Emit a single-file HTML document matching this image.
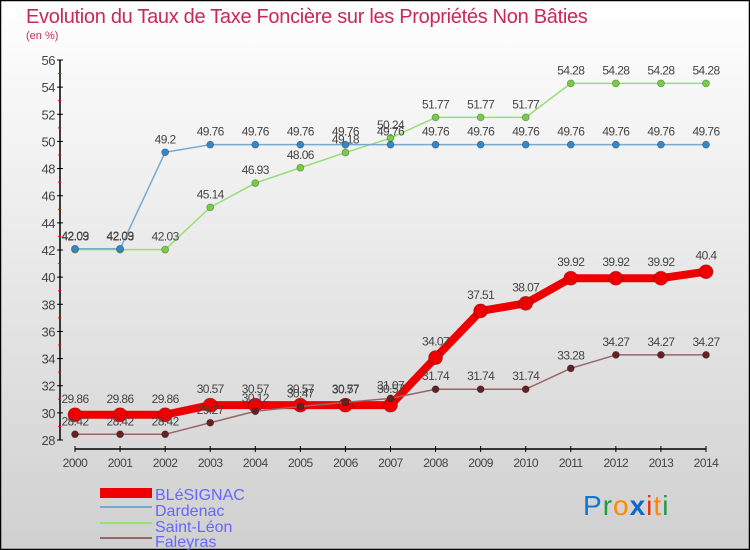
<!DOCTYPE html>
<html><head><meta charset="utf-8"><style>
body{margin:0;width:750px;height:550px;overflow:hidden;font-family:"Liberation Sans",sans-serif}
svg{display:block}
</style></head><body>
<svg id="chart" width="750" height="550" viewBox="0 0 750 550">
<defs><linearGradient id="bg" x1="0" y1="0" x2="0" y2="1"><stop offset="0" stop-color="#ffffff"/><stop offset="1" stop-color="#d0d0d0"/></linearGradient></defs>
<rect x="0.5" y="0.5" width="749" height="549" fill="url(#bg)" stroke="#000" stroke-width="1.5"/>
<text x="26" y="23" font-size="20" fill="#c8285a" letter-spacing="-0.3">Evolution du Taux de Taxe Foncière sur les Propriétés Non Bâties</text>
<text x="26" y="39" font-size="11" fill="#c8285a">(en %)</text>
<g id="axes"></g>
<g id="series"></g>
<g id="legend">
<rect x="100" y="488" width="52" height="10" fill="#ee0000"/>
<text x="155" y="500" font-size="16" fill="#6666ff">BLéSIGNAC</text>
<rect x="100" y="506" width="52" height="2" fill="#77aacc"/>
<text x="155" y="516" font-size="16" fill="#6666ff">Dardenac</text>
<rect x="100" y="522" width="52" height="2" fill="#99dd77"/>
<text x="155" y="532" font-size="16" fill="#6666ff">Saint-Léon</text>
<rect x="100" y="537" width="52" height="2" fill="#996666"/>
<text x="155" y="547" font-size="16" fill="#6666ff">Faleyras</text>
</g>
<text x="583" y="515" font-size="28" font-family="'Liberation Sans',sans-serif" letter-spacing="1"><tspan fill="#1177cc">P</tspan><tspan fill="#229944">r</tspan><tspan fill="#ff8800">o</tspan><tspan fill="#1166cc" font-weight="bold">x</tspan><tspan fill="#ee3311">i</tspan><tspan fill="#ff8800">t</tspan><tspan fill="#229944">i</tspan></text>
</svg>
<script>
const years=[2000,2001,2002,2003,2004,2005,2006,2007,2008,2009,2010,2011,2012,2013,2014];
const yTicks=[28,30,32,34,36,38,40,42,44,46,48,50,52,54,56];
const blesignac=[29.86,29.86,29.86,30.57,30.57,30.57,30.57,30.57,34.07,37.51,38.07,39.92,39.92,39.92,40.4];
const dardenac=[42.09,42.09,49.2,49.76,49.76,49.76,49.76,49.76,49.76,49.76,49.76,49.76,49.76,49.76,49.76];
const saintLeon=[42.03,42.03,42.03,45.14,46.93,48.06,49.18,50.24,51.77,51.77,51.77,54.28,54.28,54.28,54.28];
const faleyras=[28.42,28.42,28.42,29.27,30.12,30.47,30.77,31.07,31.74,31.74,31.74,33.28,34.27,34.27,34.27];
const NS="http://www.w3.org/2000/svg";
function xS(i){return 75+i*(706-75)/(years.length-1);}
function yS(v){return 440-(v-28)*(380/28);}
function mk(tag,attrs,parent){const e=document.createElementNS(NS,tag);for(const k in attrs)e.setAttribute(k,attrs[k]);parent.appendChild(e);return e;}
const axes=document.getElementById('axes');
let yl=mk('line',{x1:60,y1:60,x2:60,y2:440,stroke:'#000','stroke-width':1.5},axes);


let xl=mk('line',{x1:75,y1:449,x2:706,y2:449,stroke:'#000','stroke-width':1.5},axes);


yTicks.forEach(v=>{
 const y=yS(v);
 mk('line',{x1:57,y1:y,x2:63,y2:y,stroke:'#000'},axes);
 if(v<56)mk('line',{x1:58,y1:yS(v+1),x2:61,y2:yS(v+1),stroke:'#ff0000'},axes);
 const t=mk('text',{x:55,y:y+5,'text-anchor':'end','font-size':13,fill:'#444','letter-spacing':'-0.5'},axes);
 t.textContent=v;
 
 
});
years.forEach((yr,i)=>{
 const x=xS(i);
 mk('line',{x1:x,y1:446,x2:x,y2:452,stroke:'#000'},axes);
 const t=mk('text',{x:x,y:467,'text-anchor':'middle','font-size':12,fill:'#444','letter-spacing':'-0.5'},axes);
 t.textContent=yr;
 
 
});
const sg=document.getElementById('series');
function draw(vals,name,color,lw,ptColor,r,labelOff){
 const g=mk('g',{},sg);
 
 
 const p=mk('polyline',{points:vals.map((v,i)=>xS(i)+','+yS(v)).join(' '),fill:'none',stroke:color,'stroke-width':lw,'stroke-linejoin':'round'},g);
 
 
 vals.forEach((v,i)=>{
  const c=mk('circle',{cx:xS(i),cy:yS(v),r:r,fill:ptColor,stroke:'rgba(0,0,0,0.3)','stroke-width':0.8},g);
  
  
  const t=mk('text',{x:xS(i),y:yS(v)-labelOff,'text-anchor':'middle','font-size':12,fill:'#444','letter-spacing':'-0.6'},g);
  t.textContent=v;
  
  
 });
}
draw(saintLeon,'saint-leon','#99dd77',1.5,'#77cc44',3.5,9);
draw(dardenac,'dardenac','#77aacc',1.5,'#3388cc',3.5,9);
draw(blesignac,'blesignac','#ee0000',8,'#ee0000',7,12);
draw(faleyras,'faleyras','#996666',1.5,'#662222',3.5,9);
</script>
</body></html>
